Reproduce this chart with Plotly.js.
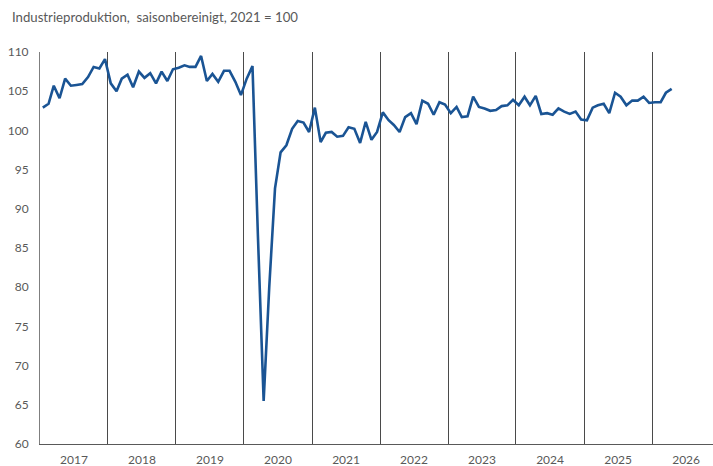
<!DOCTYPE html>
<html>
<head>
<meta charset="utf-8">
<script src="https://cdn.plot.ly/plotly-3.0.1.min.js"></script>
<style>
  html, body { margin: 0; padding: 0; background: #ffffff; }
  #chart { width: 713px; height: 466px; }
</style>
</head>
<body>
<div id="chart"></div>
<script>
// Monthly values, seasonally adjusted, 2021 = 100
const years = [2017, 2018, 2019, 2020, 2021, 2022, 2023, 2024, 2025, 2026];
const v2017 = [102.9, 103.4, 105.7, 104.1, 106.6, 105.7, 105.8, 105.9, 106.8, 108.1, 107.9, 109.1];
const v2018 = [106.0, 105.0, 106.6, 107.1, 105.5, 107.5, 106.7, 107.3, 106.0, 107.5, 106.3, 107.8];
const v2019 = [108.0, 108.3, 108.1, 108.1, 109.5, 106.3, 107.2, 106.2, 107.6, 107.6, 106.2, 104.5];
const v2020 = [106.6, 108.2, 86.7, 65.5, 80.0, 92.6, 97.2, 98.1, 100.2, 101.2, 101.0, 99.8];
const v2021 = [102.9, 98.5, 99.7, 99.8, 99.2, 99.3, 100.4, 100.2, 98.4, 101.1, 98.8, 99.8];
const v2022 = [102.3, 101.3, 100.7, 99.8, 101.7, 102.2, 100.8, 103.8, 103.4, 102.0, 103.6, 103.3];
const v2023 = [102.2, 103.0, 101.7, 101.8, 104.3, 103.0, 102.8, 102.5, 102.6, 103.1, 103.2, 103.9];
const v2024 = [103.2, 104.3, 103.2, 104.4, 102.1, 102.2, 102.0, 102.8, 102.4, 102.1, 102.4, 101.4];
const v2025 = [101.3, 102.9, 103.2, 103.4, 102.2, 104.8, 104.3, 103.2, 103.8, 103.8, 104.3, 103.5];
const v2026 = [103.6, 103.6, 104.8, 105.3];

const perYear = [v2017, v2018, v2019, v2020, v2021, v2022, v2023, v2024, v2025, v2026];
const titleText = "Industrieproduktion,&nbsp; saisonbereinigt, 2021 = 100";
const yTicks = [60, 65, 70, 75, 80, 85, 90, 95, 100, 105, 110];

// Build month dates (middle of each month) and values
const xDates = [];
const yVals = [];
perYear.forEach(function (arr, i) {
  arr.forEach(function (v, m) {
    const mm = String(m + 1).padStart(2, "0");
    xDates.push(years[i] + "-" + mm + "-16");
    yVals.push(v);
  });
});

const font = "Lato, 'Open Sans', 'Liberation Sans', sans-serif";
const textGray = "#595959";

const trace = {
  x: xDates,
  y: yVals,
  type: "scatter",
  mode: "lines",
  line: { color: "#1a5494", width: 2.6 },
  hoverinfo: "x+y"
};

const layout = {
  width: 713,
  height: 466,
  margin: { l: 40, r: 0, t: 52, b: 22 },
  paper_bgcolor: "#ffffff",
  plot_bgcolor: "#ffffff",
  showlegend: false,
  font: { family: font, size: 12, color: textGray },
  title: {
    text: titleText,
    x: 0.0168, xanchor: "left", xref: "container",
    y: 0.963, yanchor: "middle", yref: "container",
    font: { family: font, size: 13.2, color: textGray }
  },
  xaxis: {
    type: "date",
    range: ["2017-01-01", "2026-11-24"],
    tick0: "2017-01-01",
    dtick: "M12",
    tickformat: "%Y",
    ticklabelmode: "period",
    ticks: "",
    showgrid: true,
    gridcolor: "#4a4a4a",
    gridwidth: 1,
    showline: true,
    linecolor: "#595959",
    linewidth: 1,
    zeroline: false,
    ticklabelstandoff: 5,
    tickfont: { family: font, size: 12, color: textGray },
    fixedrange: true
  },
  yaxis: {
    range: [60, 110],
    tickvals: yTicks,
    ticks: "",
    showgrid: false,
    showline: true,
    linecolor: "#7f7f7f",
    linewidth: 1,
    zeroline: false,
    ticklabelstandoff: 8,
    tickfont: { family: font, size: 12, color: textGray },
    fixedrange: true
  }
};

Plotly.newPlot("chart", [trace], layout, { displayModeBar: false, staticPlot: true });
</script>
</body>
</html>
